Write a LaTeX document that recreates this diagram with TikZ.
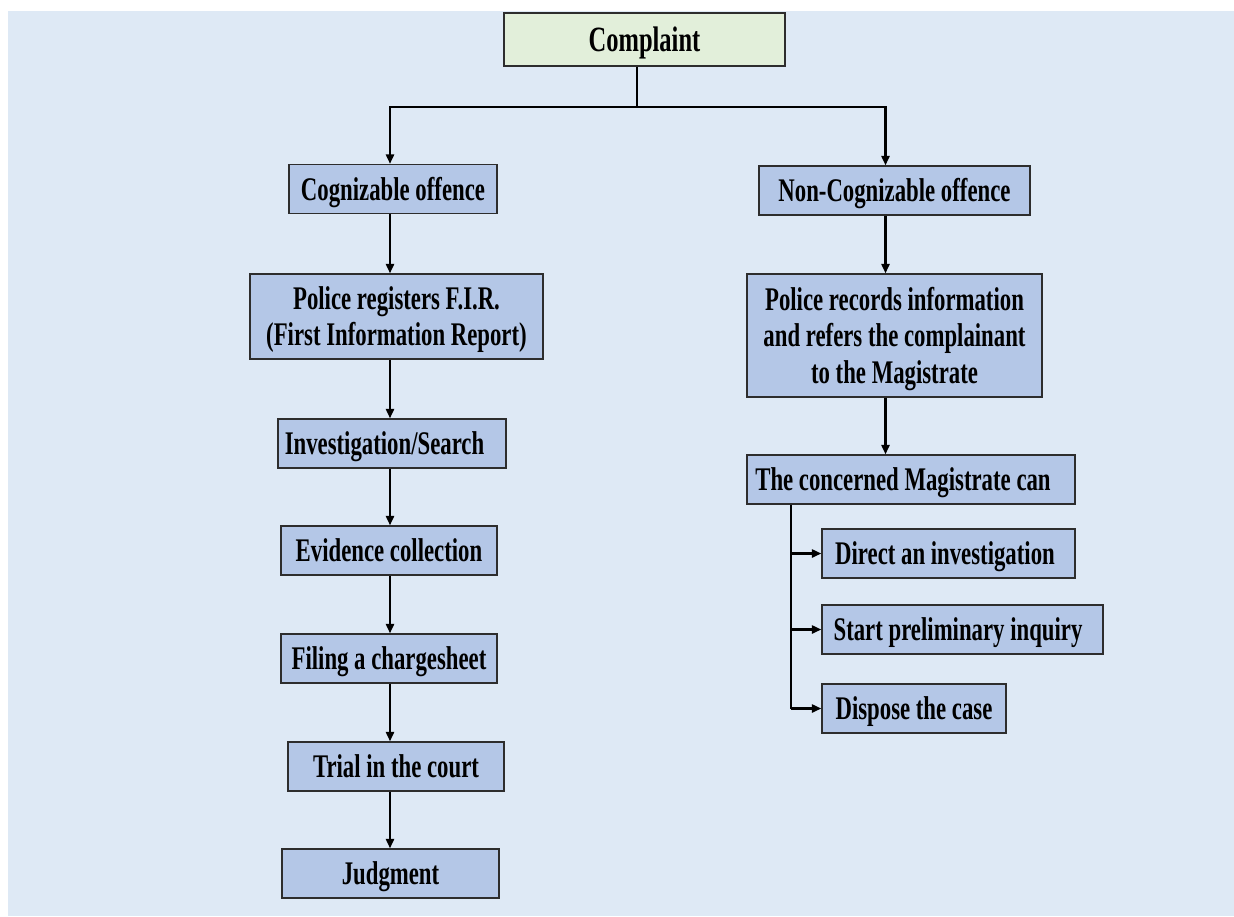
\documentclass[tikz,border=0pt]{standalone}
\usepackage{fontspec}
\newfontfamily\flowfont{Liberation Serif}[FakeStretch=0.69]
\usetikzlibrary{arrows.meta}

\definecolor{pagebg}{RGB}{222,233,245}
\definecolor{boxblue}{RGB}{180,199,231}
\definecolor{boxgreen}{RGB}{226,239,218}
\definecolor{boxline}{RGB}{45,45,45}

\tikzset{
	stepbox/.style={draw=boxline, line width=1.2pt, fill=boxblue, inner sep=0pt, align=center,
		minimum height=49pt, text height=22pt, text depth=0pt,
		font=\flowfont\bfseries\fontsize{33}{36.5}\selectfont},
	link/.style={line width=2.4pt},
	arrow/.style={link, -{Triangle[length=9.5pt,width=8pt]}}
}

\begin{document}
\begin{tikzpicture}[x=1pt,y=-1pt]
			\useasboundingbox (0,0) rectangle (1234,916);
			\fill[pagebg] (8,11) rectangle (1234,916);

			\node[stepbox, fill=boxgreen, minimum width=281pt, minimum height=53pt, text height=23.5pt,
				font=\flowfont\bfseries\fontsize{35.5}{39}\selectfont] (complaint) at (644.5,39.5) {Complaint};

			% cognizable side
			\node[stepbox, minimum width=208pt] (cog) at (393,189) {Cognizable offence};
			\node[stepbox, minimum width=293pt, minimum height=85pt, text height=58.5pt] (fir) at (396.5,316.5) {Police registers F.I.R.\\(First Information Report)};
			\node[stepbox, minimum width=228pt] (invest) at (392,443.5) {Investigation/Search\hspace*{15pt}};
			\node[stepbox, minimum width=216pt] (evid) at (389,550.5) {Evidence collection};
			\node[stepbox, minimum width=216pt] (filing) at (389,658.5) {Filing a chargesheet};
			\node[stepbox, minimum width=216pt] (trial) at (396,766.5) {Trial in the court};
			\node[stepbox, minimum width=217pt] (judg) at (390.5,873.5) {Judgment};

			% non-cognizable side
			\node[stepbox, minimum width=271pt] (noncog) at (894.5,190.5) {Non-Cognizable offence};
			\node[stepbox, minimum width=295pt, minimum height=123pt, text height=95pt] (records) at (894.5,335.5) {Police records information\\and refers the complainant\\to the Magistrate};
			\node[stepbox, minimum width=328pt] (magis) at (911,479.5) {The concerned Magistrate can\hspace*{16pt}};
			\node[stepbox, minimum width=253pt] (direct) at (948.5,553.5) {Direct an investigation\hspace*{7pt}};
			\node[stepbox, minimum width=281pt] (start) at (962.5,629.5) {Start preliminary inquiry\hspace*{9pt}};
			\node[stepbox, minimum width=184pt] (dispose) at (914,708.5) {Dispose the case};

			\coordinate (split) at (637,107);
			\coordinate (colL) at (390,0);
			\coordinate (colR) at (885.5,0);
			\coordinate (trunk) at (791,0);

			\draw[link] (complaint.south -| split) -- (split);
			\draw[arrow] (split) -| (cog.north -| colL);
			\draw[arrow] (split) -| (noncog.north -| colR);
			\foreach \a/\b in {cog/fir, fir/invest, invest/evid, evid/filing, filing/trial, trial/judg}
			\draw[arrow] (\a.south -| colL) -- (\b.north -| colL);
			\foreach \a/\b in {noncog/records, records/magis}
			\draw[arrow] (\a.south -| colR) -- (\b.north -| colR);
			\draw[link] (magis.south -| trunk) -- (trunk |- dispose.west);
			\foreach \b in {direct, start, dispose}
			\draw[arrow] (trunk |- \b.west) -- (\b.west);
		\end{tikzpicture}
\end{document}
